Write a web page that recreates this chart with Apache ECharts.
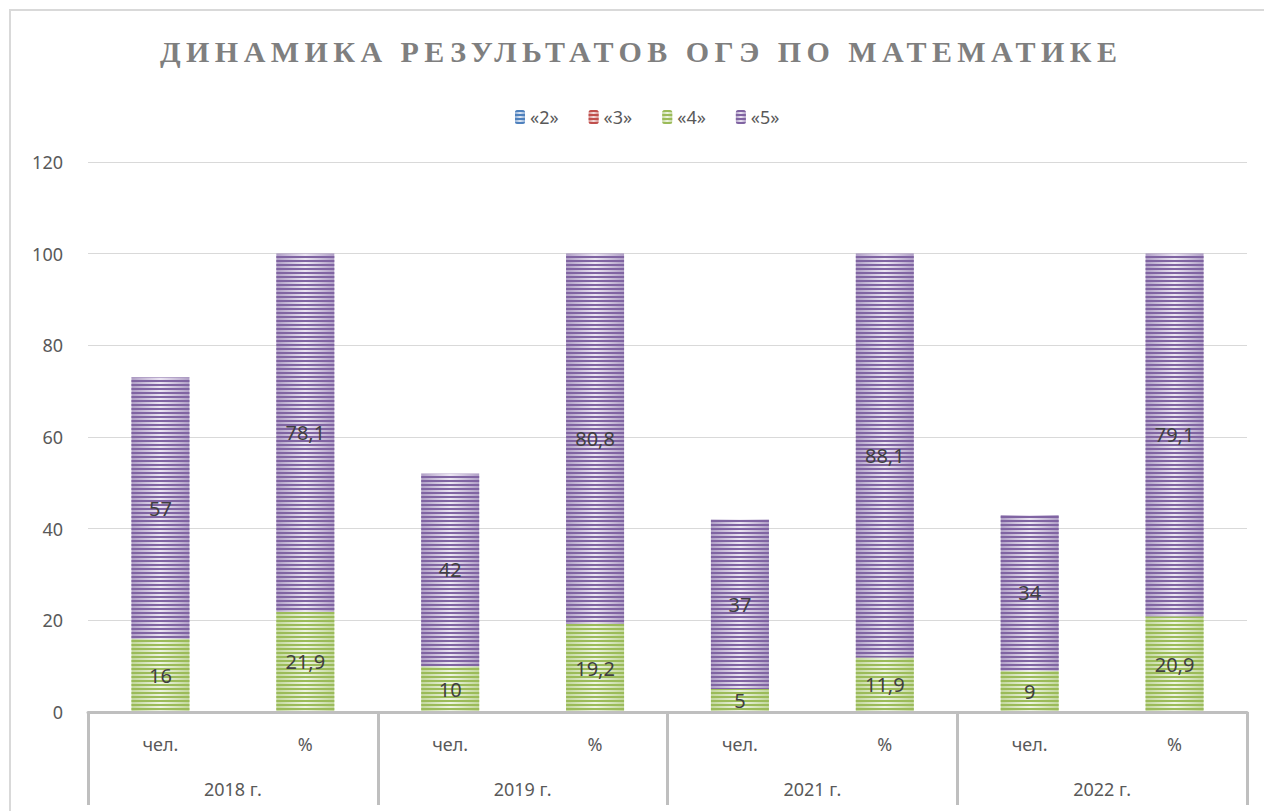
<!DOCTYPE html>
<html>
<head>
<meta charset="utf-8">
<script src="https://cdn.jsdelivr.net/npm/echarts@6/dist/echarts.min.js"></script>
<style>
html,body{margin:0;padding:0;background:#fff;}
#chart{width:1264px;height:811px;}
</style>
</head>
<body>
<div id="chart"></div>
<script>
const titleText = 'ДИНАМИКА РЕЗУЛЬТАТОВ ОГЭ ПО МАТЕМАТИКЕ';
const categories = ['чел.', '%', 'чел.', '%', 'чел.', '%', 'чел.', '%'];
const years = ['2018 г.', '2019 г.', '2021 г.', '2022 г.'];
const seriesNames = ['«2»', '«3»', '«4»', '«5»'];
const grade2 = [0, 0, 0, 0, 0, 0, 0, 0];
const grade3 = [0, 0, 0, 0, 0, 0, 0, 0];
const grade4 = [16, 21.9, 10, 19.2, 5, 11.9, 9, 20.9];
const grade5 = [57, 78.1, 42, 80.8, 37, 88.1, 34, 79.1];
const yMin = 0, yMax = 120, yStep = 20;

const palettes = [
  {dark: '#4f81bd', mid: '#8eaed6', light: '#dfe8f4'},
  {dark: '#c0504d', mid: '#d88e8c', light: '#f3dedd'},
  {dark: '#9bbb59', mid: '#c2d79c', light: '#eef4e3'},
  {dark: '#8064a2', mid: '#b09fc6', light: '#ece6f3'}
];
const seriesData = [grade2, grade3, grade4, grade5];

const sansFont = '"Noto Sans", "Open Sans", sans-serif';

function barStyle(p) {
  return {
    color: {
      type: 'linear', x: 0, y: 0, x2: 1, y2: 0,
      colorStops: [
        {offset: 0, color: p.mid},
        {offset: 0.5, color: p.light},
        {offset: 1, color: p.mid}
      ]
    },
    decal: {
      symbol: 'rect',
      symbolSize: 1,
      dashArrayX: [1, 0],
      dashArrayY: [2, 2],
      rotation: 0,
      color: p.dark
    }
  };
}

// measure title to reproduce its letter spacing
const targetTitleWidth = 957;
const titleFontSize = 30;
const mc = document.createElement('canvas').getContext('2d');
mc.font = 'bold ' + titleFontSize + 'px "Liberation Serif"';
const naturalW = mc.measureText(titleText).width;
const spacing = Math.max(0, (targetTitleWidth - naturalW) / (titleText.length - 1));

const chart = echarts.init(document.getElementById('chart'), null, {renderer: 'svg'});

const series = seriesNames.map((name, i) => ({
  name: name,
  type: 'bar',
  stack: 'total',
  barWidth: 58,
  xAxisIndex: 0,
  data: seriesData[i],
  itemStyle: barStyle(palettes[i]),
  label: {
    show: i >= 2,
    position: 'inside',
    color: '#404040',
    fontSize: 20,
    fontFamily: sansFont,
    formatter: (p) => String(p.value).replace('.', ',')
  },
  emphasis: {disabled: true}
}));

chart.setOption({
  animation: false,
  backgroundColor: '#fff',
  graphic: [
    {
      type: 'rect',
      shape: {x: 10, y: 10, width: 1300, height: 900},
      style: {fill: 'none', stroke: '#d9d9d9', lineWidth: 2},
      silent: true,
      z: -10
    },
    {
      type: 'text',
      id: 'chartTitle',
      x: 638.5 + spacing / 2,
      y: 51,
      style: {
        text: titleText,
        fill: '#7f7f7f',
        font: 'bold ' + titleFontSize + 'px "Liberation Serif", serif',
        textAlign: 'center',
        textVerticalAlign: 'middle'
      },
      silent: true
    }
  ],
  legend: {
    data: seriesNames,
    left: 510,
    top: 103,
    itemWidth: 10,
    itemHeight: 14,
    itemGap: 30,
    textStyle: {fontSize: 18, color: '#595959', fontFamily: sansFont},
    selectedMode: false
  },
  grid: {left: 88, right: 17, top: 162, bottom: 99, containLabel: false},
  xAxis: [
    {
      type: 'category',
      data: categories,
      position: 'bottom',
      axisLine: {show: false},
      axisTick: {show: false},
      axisLabel: {margin: 23, fontSize: 18, color: '#595959', fontFamily: sansFont, interval: 0}
    },
    {
      type: 'category',
      data: years,
      position: 'bottom',
      offset: 0,
      axisLine: {show: true, lineStyle: {color: '#bfbfbf', width: 3}},
      axisTick: {show: true, interval: 0, length: 93, lineStyle: {color: '#bfbfbf', width: 3}},
      axisLabel: {margin: 68, fontSize: 18, color: '#595959', fontFamily: sansFont, interval: 0},
      z: 5
    }
  ],
  yAxis: {
    type: 'value',
    min: yMin,
    max: yMax,
    interval: yStep,
    axisLine: {show: false},
    axisTick: {show: false},
    axisLabel: {margin: 25, fontSize: 18, color: '#595959', fontFamily: sansFont},
    splitLine: {lineStyle: {color: '#d9d9d9', width: 1}}
  },
  series: series
});

function applySpacing() {
  document.querySelectorAll('#chart svg text').forEach(t => {
    if (t.textContent === titleText) {
      t.style.letterSpacing = spacing + 'px';
    }
  });
}
applySpacing();
chart.on('finished', applySpacing);
</script>
</body>
</html>
